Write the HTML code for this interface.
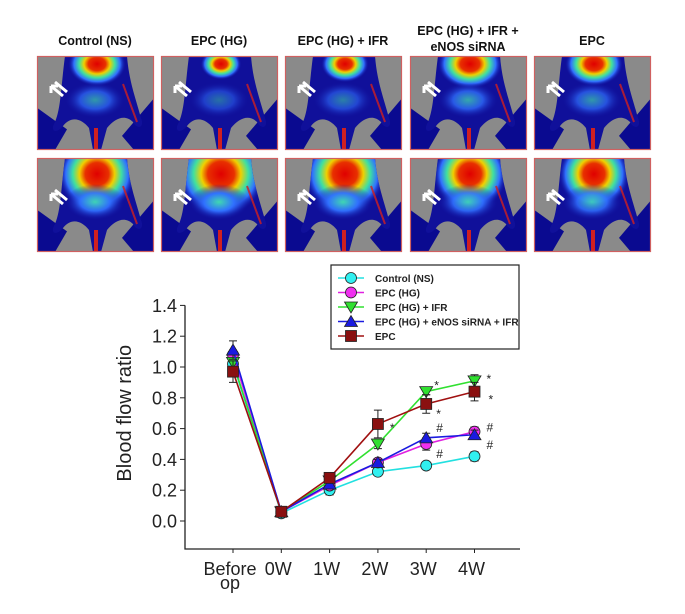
<!DOCTYPE html>
<html><head><meta charset="utf-8"><style>
body{margin:0;background:#fff;width:685px;height:614px;overflow:hidden;font-family:"Liberation Sans",sans-serif}
svg{display:block}
</style></head><body>
<svg id="fig" width="685" height="614" viewBox="0 0 685 614">
<defs>
<radialGradient id="hot" cx="50%" cy="50%" r="50%">
<stop offset="0" stop-color="#e00000"/><stop offset="0.3" stop-color="#e83000"/><stop offset="0.45" stop-color="#f0d000"/><stop offset="0.62" stop-color="#40e0a0"/><stop offset="0.8" stop-color="#3070ff"/><stop offset="1" stop-color="#1010a0" stop-opacity="0"/>
</radialGradient>
<radialGradient id="warm" cx="50%" cy="50%" r="50%">
<stop offset="0" stop-color="#40d8b0"/><stop offset="0.5" stop-color="#3070ff"/><stop offset="1" stop-color="#1010a0" stop-opacity="0"/>
</radialGradient>
<clipPath id="pclip"><rect x="0" y="0" width="117" height="94"/></clipPath>
<clipPath id="bclip"><path d="M28,0 L90,0 C92,25 98,40 104,62 C108,72 100,74 96,66 C88,58 78,62 70,72 L64,94 L56,94 L52,72 C44,62 34,60 26,70 C20,78 12,76 18,66 C24,52 24,30 28,0 Z"/></clipPath>
</defs>
<g id="panels"></g>
<g id="chart"></g>
</svg>
<script>
const NS='http://www.w3.org/2000/svg';
function mk(tag,attrs,parent,txt){const e=document.createElementNS(NS,tag);for(const k in attrs)e.setAttribute(k,attrs[k]);if(txt!==undefined)e.textContent=txt;parent.appendChild(e);return e;}

// ---------- image panels ----------
const panelTitles=[["Control (NS)"],["EPC (HG)"],["EPC (HG) + IFR"],["EPC (HG) + IFR +","eNOS siRNA"],["EPC"]];
const panelHeat=[[0.85,1.15],[0.6,1.3],[0.7,1.2],[0.95,1.1],[0.85,1.05]];
const colX=[37,161,285,410,534];
const rowY=[56,158];
const pg=document.getElementById('panels');
colX.forEach((x,ci)=>{
  const lines=panelTitles[ci];
  lines.forEach((ln,li)=>{
    const y=lines.length===1?45:35+li*16;
    const t=mk('text',{x:x+58,y:y,'text-anchor':'middle','font-size':'12.5','font-weight':'bold',fill:'#111'},pg,ln);
    
    
  });
  rowY.forEach((y,ri)=>{
    const g=mk('g',{transform:`translate(${x},${y})`},pg);
    
    
    const W=117,H=94;
    const inner=mk('g',{'clip-path':'url(#pclip)'},g);
    mk('rect',{x:0,y:0,width:W,height:H,fill:'#8a8a8a'},inner);
    mk('polygon',{points:`0,${H*0.55} 30,${H*0.78} 18,${H} 0,${H}`,fill:'#0a0a90'},inner);
    mk('polygon',{points:`${W},${H*0.45} ${W-32},${H*0.85} ${W-20},${H} ${W},${H}`,fill:'#0a0a90'},inner);
    const bg=mk('g',{'clip-path':'url(#bclip)'},inner);
    mk('rect',{x:0,y:0,width:W,height:H,fill:'#10109a'},bg);
    const h=panelHeat[ci][ri];
    mk('ellipse',{cx:60,cy:8+ri*8,rx:34*h,ry:26*h+ri*8,fill:'url(#hot)'},bg);
    mk('ellipse',{cx:58,cy:44,rx:30,ry:18,fill:'url(#warm)',opacity:0.8*h},bg);
    mk('line',{x1:86,y1:28,x2:100,y2:66,stroke:'#d02020','stroke-width':2,opacity:0.8},inner);
    mk('rect',{x:57,y:72,width:4,height:22,fill:'#d02020'},inner);
    mk('path',{d:`M14,${30+ri*6} l12,10 M14,${30+ri*6} l0,7 M14,${30+ri*6} l7,0 M18,${26+ri*6} l12,10`,stroke:'#fff','stroke-width':3,fill:'none'},inner);
    mk('rect',{x:0.5,y:0.5,width:W-1,height:H-1,fill:'none',stroke:'#d06060','stroke-width':1.2},g);
  });
});

// ---------- chart ----------
const categories=["Before op","0W","1W","2W","3W","4W"];
const seriesNames=["Control (NS)","EPC (HG)","EPC (HG) + IFR","EPC (HG) + eNOS siRNA + IFR","EPC"];
const controlNS=[1.02,0.05,0.20,0.32,0.36,0.42];
const epcHG=[1.08,0.06,0.23,0.38,0.50,0.58];
const epcHGIFR=[1.03,0.06,0.26,0.50,0.84,0.91];
const epcSiRNA=[1.11,0.06,0.24,0.38,0.54,0.56];
const epc=[0.97,0.06,0.28,0.63,0.76,0.84];
const controlErr=[0.03,0.01,0.03,0.02,0.02,0.03];
const epcHGErr=[0.03,0.01,0.02,0.02,0.04,0.03];
const ifrErr=[0.03,0.01,0.02,0.03,0.02,0.04];
const siRNAErr=[0.06,0.01,0.02,0.02,0.03,0.03];
const epcErr=[0.07,0.01,0.02,0.09,0.06,0.06];
const yTicks=[0.0,0.2,0.4,0.6,0.8,1.0,1.2,1.4];

const cg=document.getElementById('chart');
const xScale=i=>233+i*48.3;
const yScale=v=>521-v*154;
const axX=185,axB=549,axR=520;
const ax=mk('path',{d:`M${axX},${yScale(1.4)} L${axX},${axB} L${axR},${axB}`,stroke:'#222','stroke-width':1.3,fill:'none'},cg);


yTicks.forEach(v=>{
  mk('line',{x1:axX-5,x2:axX,y1:yScale(v),y2:yScale(v),stroke:'#222'},cg);
  const t=mk('text',{x:axX-8,y:yScale(v)+6.5,'text-anchor':'end','font-size':'18',fill:'#222'},cg,v.toFixed(1));
  
  
});
categories.forEach((c,i)=>{
  mk('line',{x1:xScale(i),x2:xScale(i),y1:axB,y2:axB+4,stroke:'#222'},cg);
  const parts=c==="Before op"?["Before","op"]:[c];
  parts.forEach((p,j)=>{
    const t=mk('text',{x:xScale(i)-3,y:575+j*14,'text-anchor':'middle','font-size':'18',fill:'#222'},cg,p);
    
    
  });
});
const yt=mk('text',{transform:`translate(131,${yScale(0.7)}) rotate(-90)`,'text-anchor':'middle','font-size':'20',fill:'#222'},cg,'Blood flow ratio');



const allData=[controlNS,epcHG,epcHGIFR,epcSiRNA,epc];
const allErr=[controlErr,epcHGErr,ifrErr,siRNAErr,epcErr];
const lineCols=['#22e0e0','#e020e0','#30e030','#1a1ae0','#a01010'];
const fillCols=['#30f0f0','#f030f0','#30e030','#1a1ae0','#8a1010'];
const shapes=['circle','circle','tri-down','tri-up','square'];
function marker(g,s,x,y,fill){
  const a={fill:fill,stroke:'#222','stroke-width':0.8};
  if(s==='circle')return mk('circle',Object.assign({cx:x,cy:y,r:5.5},a),g);
  if(s==='square')return mk('rect',Object.assign({x:x-5.5,y:y-5.5,width:11,height:11},a),g);
  if(s==='tri-down')return mk('polygon',Object.assign({points:`${x-6.5},${y-5} ${x+6.5},${y-5} ${x},${y+6}`},a),g);
  return mk('polygon',Object.assign({points:`${x-6.5},${y+5} ${x+6.5},${y+5} ${x},${y-6}`},a),g);
}
allData.forEach((d,si)=>{
  const g=mk('g',{},cg);
  
  
  mk('polyline',{points:d.map((v,i)=>xScale(i)+','+yScale(v)).join(' '),fill:'none',stroke:lineCols[si],'stroke-width':1.6},g);
  d.forEach((v,i)=>{
    const e=allErr[si][i],x=xScale(i);
    mk('path',{d:`M${x},${yScale(v+e)} L${x},${yScale(v-e)} M${x-4},${yScale(v+e)} h8 M${x-4},${yScale(v-e)} h8`,stroke:'#222','stroke-width':1,fill:'none'},g);
    const m=marker(g,shapes[si],x,yScale(v),fillCols[si]);
    
    
  });
});
const sig=[[3,4,'*',12,4],[4,2,'*',8,-6],[4,4,'*',10,10],[4,3,'#',10,-10],[4,1,'#',10,10],[5,2,'*',12,-2],[5,4,'*',14,8],[5,1,'#',12,-4],[5,3,'#',12,10]];
sig.forEach(s=>{
  const t=mk('text',{x:xScale(s[0])+s[3],y:yScale(allData[s[1]][s[0]])+s[4]+4,'font-size':'12',fill:'#222'},cg,s[2]);
  
  
});
const lg=mk('g',{},cg);


mk('rect',{x:331,y:265,width:188,height:84,fill:'#fff',stroke:'#222','stroke-width':1.2},lg);
seriesNames.forEach((n,si)=>{
  const y=278+si*14.5;
  const e=mk('g',{},lg);
  
  
  mk('line',{x1:338,x2:364,y1:y,y2:y,stroke:lineCols[si],'stroke-width':1.6},e);
  marker(e,shapes[si],351,y,fillCols[si]);
  mk('text',{x:375,y:y+4,'font-size':'10','font-weight':'bold',fill:'#222'},e,n);
});
</script>
</body></html>
